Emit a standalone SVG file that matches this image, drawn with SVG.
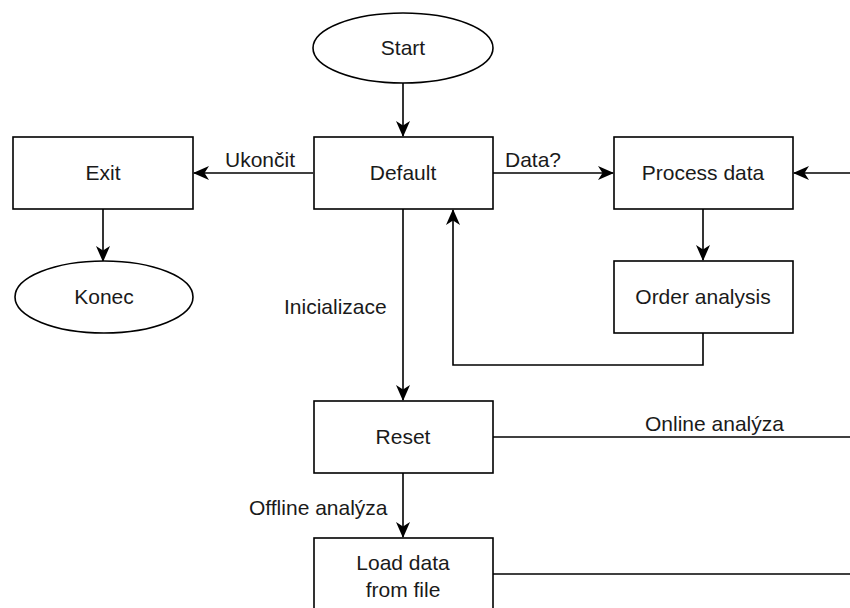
<svg xmlns="http://www.w3.org/2000/svg" width="850" height="608" viewBox="0 0 850 608">
<defs>
<marker id="arr" viewBox="0 0 16 14" refX="15" refY="7" markerWidth="16" markerHeight="14" markerUnits="userSpaceOnUse" orient="auto">
<path d="M0,0 L16,7 L0,14 L4.5,7 z" fill="#000"/>
</marker>
<style>
.box{fill:#fff;stroke:#000;stroke-width:1.6}
.t{font-family:"Liberation Sans",Arial,sans-serif;font-size:21px;fill:#1a1a1a;text-anchor:middle}
.l{font-family:"Liberation Sans",Arial,sans-serif;font-size:21px;fill:#1a1a1a}
.c{fill:none;stroke:#000;stroke-width:1.6}
</style>
</defs>
<rect width="850" height="608" fill="#fff"/>
<g id="connectors">
<path class="c" d="M403,83 V136" marker-end="url(#arr)"/>
<path class="c" d="M313,173 H194" marker-end="url(#arr)"/>
<path class="c" d="M103,209 V261" marker-end="url(#arr)"/>
<path class="c" d="M493,173 H613" marker-end="url(#arr)"/>
<path class="c" d="M850,173 H794" marker-end="url(#arr)"/>
<path class="c" d="M703,209 V260" marker-end="url(#arr)"/>
<path class="c" d="M703,333 V365 H453 V210" marker-end="url(#arr)"/>
<path class="c" d="M403,209 V400" marker-end="url(#arr)"/>
<path class="c" d="M403,473 V537" marker-end="url(#arr)"/>
<path class="c" d="M493,437 H850"/>
<path class="c" d="M493,574 H850"/>
<text class="l" x="225" y="167">Ukončit</text>
<text class="l" x="505" y="167">Data?</text>
<text class="l" x="284" y="314">Inicializace</text>
<text class="l" x="645" y="431">Online analýza</text>
<text class="l" x="249" y="515">Offline analýza</text>
</g>
<g id="start">
<ellipse class="box" cx="403" cy="48" rx="90" ry="35"/>
<text class="t" x="403" y="55">Start</text>
</g>
<g id="default">
<rect class="box" x="314" y="137" width="179" height="72"/>
<text class="t" x="403" y="180">Default</text>
</g>
<g id="exit">
<rect class="box" x="13" y="137" width="180" height="72"/>
<text class="t" x="103" y="180">Exit</text>
</g>
<g id="konec">
<ellipse class="box" cx="104" cy="297" rx="89" ry="36"/>
<text class="t" x="104" y="304">Konec</text>
</g>
<g id="process">
<rect class="box" x="614" y="137" width="179" height="72"/>
<text class="t" x="703" y="180">Process data</text>
</g>
<g id="order">
<rect class="box" x="614" y="261" width="179" height="72"/>
<text class="t" x="703" y="304">Order analysis</text>
</g>
<g id="reset">
<rect class="box" x="314" y="401" width="179" height="72"/>
<text class="t" x="403" y="444">Reset</text>
</g>
<g id="load">
<rect class="box" x="314" y="538" width="179" height="72"/>
<text class="t" x="403" y="570">Load data</text>
<text class="t" x="403" y="597">from file</text>
</g>
</svg>
